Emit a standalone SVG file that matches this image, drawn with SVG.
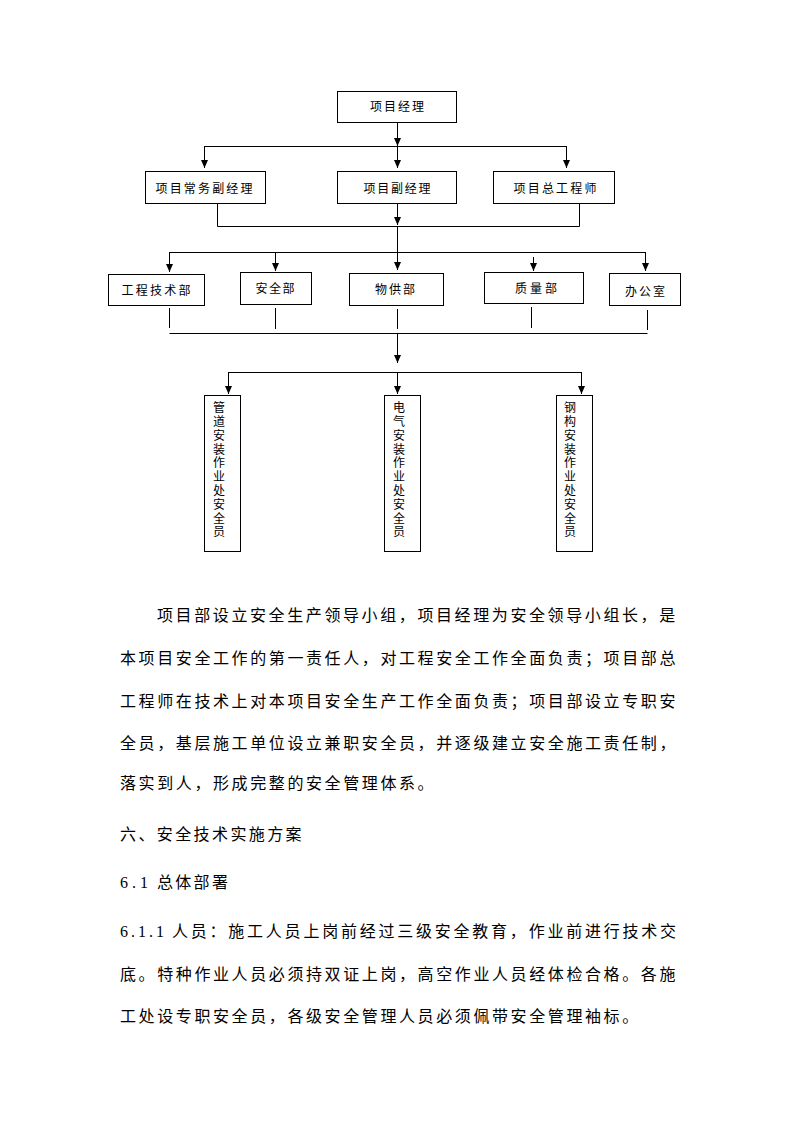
<svg xmlns="http://www.w3.org/2000/svg" width="794" height="1123" viewBox="0 0 794 1123">
<defs>
<style>
.box{fill:#fff;stroke:#000;stroke-width:1}
.ln{fill:none;stroke:#000;stroke-width:1}
.ar{fill:none;stroke:#000;stroke-width:1;marker-end:url(#arr)}
.lb{font-family:"Noto Sans CJK SC","Noto Sans",sans-serif;font-size:12px;fill:#000;text-anchor:middle}
.vt{font-family:"Noto Sans CJK SC","Noto Sans",sans-serif;font-size:12px;fill:#000;writing-mode:vertical-rl;text-orientation:upright;letter-spacing:1.8px}
.bd{font-family:"Noto Sans CJK SC","Noto Sans",sans-serif;font-size:16px;fill:#000;letter-spacing:2.6px}
.num{font-family:"Liberation Serif","Noto Sans CJK SC",serif;font-size:16px;fill:#000}
</style>
<marker id="arr" viewBox="0 0 10 10" refX="10" refY="5" markerWidth="8" markerHeight="7" markerUnits="userSpaceOnUse" orient="auto" preserveAspectRatio="none">
<path d="M0,0 L10,5 L0,10 z" fill="#000"/>
</marker>
</defs>
<rect width="794" height="1123" fill="#fff"/>

<g id="connectors">
<path class="ar" d="M397.5,122 V146"/>
<path class="ln" d="M204.5,146.5 H566.5"/>
<path class="ar" d="M204.5,146 V168"/>
<path class="ar" d="M397.5,146 V168"/>
<path class="ar" d="M566.5,146 V168"/>
<path class="ar" d="M397.5,203 V225"/>
<path class="ln" d="M217.5,204 V226.5 H579.5 V204"/>
<path class="ar" d="M397.5,226 V270"/>
<path class="ln" d="M169.5,252.5 H645.5"/>
<path class="ar" d="M169.5,252 V272"/>
<path class="ar" d="M275.5,252 V271"/>
<path class="ar" d="M645.5,252 V271"/>
<path class="ar" d="M533.5,257 V271"/>
<path class="ln" d="M169.5,308 V328 M275.5,308 V329 M397.5,309 V329 M531.5,307 V328 M647.5,310 V330"/>
<path class="ln" d="M169.5,333.5 H647.5"/>
<path class="ar" d="M397.5,333 V363"/>
<path class="ln" d="M228.5,372.5 H581.5"/>
<path class="ar" d="M228.5,372 V394"/>
<path class="ar" d="M397.5,372 V394"/>
<path class="ar" d="M581.5,372 V394"/>
</g>

<g id="n1"><rect class="box" x="337.5" y="91.5" width="119" height="31"/><text class="lb" x="397" y="111" textLength="54">项目经理</text></g>
<g id="n2"><rect class="box" x="145.5" y="171.5" width="120" height="32"/><text class="lb" x="204" y="193" textLength="97">项目常务副经理</text></g>
<g id="n3"><rect class="box" x="337.5" y="171.5" width="119" height="32"/><text class="lb" x="397" y="193" textLength="67">项目副经理</text></g>
<g id="n4"><rect class="box" x="493.5" y="171.5" width="121" height="32"/><text class="lb" x="555" y="193" textLength="83">项目总工程师</text></g>

<g id="n5"><rect class="box" x="108.5" y="274.5" width="96" height="31"/><text class="lb" x="156" y="294.5" textLength="69">工程技术部</text></g>
<g id="n6"><rect class="box" x="240.5" y="272.5" width="71" height="32"/><text class="lb" x="275" y="292.5" textLength="39">安全部</text></g>
<g id="n7"><rect class="box" x="349.5" y="273.5" width="94" height="32"/><text class="lb" x="395" y="293.5" textLength="40">物供部</text></g>
<g id="n8"><rect class="box" x="484.5" y="272.5" width="99" height="31"/><text class="lb" x="536" y="292.5" textLength="42">质量部</text></g>
<g id="n9"><rect class="box" x="609.5" y="273.5" width="71" height="32"/><text class="lb" x="645" y="295.5" textLength="40">办公室</text></g>

<g id="n10"><rect class="box" x="204.5" y="395.5" width="36" height="156"/>
<text class="vt" x="219" y="401.7">管道安装作业处安全员</text>
</g>
<g id="n11"><rect class="box" x="384.5" y="395.5" width="36" height="156"/>
<text class="vt" x="399" y="401.7">电气安装作业处安全员</text>
</g>
<g id="n12"><rect class="box" x="556.5" y="395.5" width="36" height="156"/>
<text class="vt" x="570" y="401.7">钢构安装作业处安全员</text>
</g>

<g id="body">
<text class="bd" x="157" y="621">项目部设立安全生产领导小组，项目经理为安全领导小组长，是</text>
<text class="bd" x="120" y="664">本项目安全工作的第一责任人，对工程安全工作全面负责；项目部总</text>
<text class="bd" x="120" y="707">工程师在技术上对本项目安全生产工作全面负责；项目部设立专职安</text>
<text class="bd" x="120" y="749">全员，基层施工单位设立兼职安全员，并逐级建立安全施工责任制，</text>
<text class="bd" x="120" y="789">落实到人，形成完整的安全管理体系。</text>
<text class="bd" x="120" y="840" style="letter-spacing:2.4px">六、安全技术实施方案</text>
<text class="num" x="120" y="888" textLength="28">6.1</text>
<text class="bd" x="157" y="888" style="letter-spacing:2.3px">总体部署</text>
<text class="num" x="120" y="937" textLength="44">6.1.1</text>
<text class="bd" x="172" y="937" style="letter-spacing:2.77px">人员：施工人员上岗前经过三级安全教育，作业前进行技术交</text>
<text class="bd" x="120" y="980">底。特种作业人员必须持双证上岗，高空作业人员经体检合格。各施</text>
<text class="bd" x="120" y="1022">工处设专职安全员，各级安全管理人员必须佩带安全管理袖标。</text>
</g>
</svg>
